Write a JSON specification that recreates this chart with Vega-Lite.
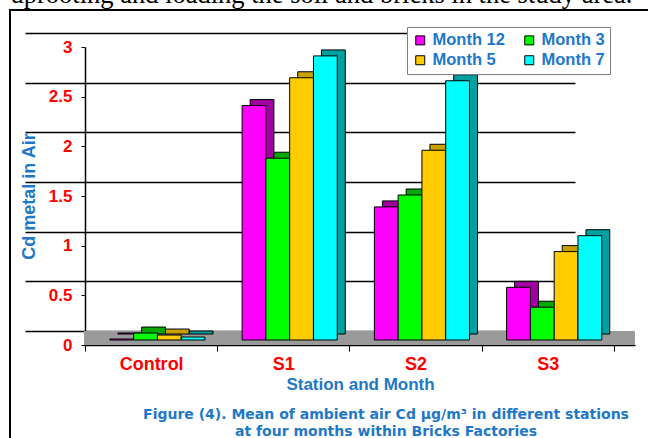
{
  "$schema": "https://vega.github.io/schema/vega-lite/v6.json",
  "width": 640,
  "height": 430,
  "autosize": {"type": "none"},
  "padding": {"left": 10, "top": 10, "right": 0, "bottom": 0},
  "background": "white",
  "config": {"view": {"stroke": "#000000", "strokeWidth": 2}, "font": "Liberation Sans"},
  "data": {
    "values": [
      {"station": "Control", "month": "Month 12", "value": 0.01},
      {"station": "Control", "month": "Month 3", "value": 0.07},
      {"station": "Control", "month": "Month 5", "value": 0.05},
      {"station": "Control", "month": "Month 7", "value": 0.03},
      {"station": "S1", "month": "Month 12", "value": 2.36},
      {"station": "S1", "month": "Month 3", "value": 1.83},
      {"station": "S1", "month": "Month 5", "value": 2.64},
      {"station": "S1", "month": "Month 7", "value": 2.86},
      {"station": "S2", "month": "Month 12", "value": 1.34},
      {"station": "S2", "month": "Month 3", "value": 1.46},
      {"station": "S2", "month": "Month 5", "value": 1.91},
      {"station": "S2", "month": "Month 7", "value": 2.61},
      {"station": "S3", "month": "Month 12", "value": 0.53},
      {"station": "S3", "month": "Month 3", "value": 0.33},
      {"station": "S3", "month": "Month 5", "value": 0.89},
      {"station": "S3", "month": "Month 7", "value": 1.05}
    ]
  },
  "title": {
    "text": ["Figure (4). Mean of ambient air Cd µg/m³ in different stations", "at four months within Bricks Factories"],
    "orient": "bottom",
    "anchor": "middle",
    "frame": "group",
    "offset": 0,
    "dx": 56,
    "dy": -32,
    "baseline": "top",
    "font": "DejaVu Sans",
    "fontSize": 14,
    "fontWeight": "bold",
    "color": "#1E78C8",
    "lineHeight": 17
  },
  "layer": [
    {
      "mark": {"type": "bar", "color": "#9A9A9A", "xOffset": 10, "width": {"band": 1.16}},
      "encoding": {
        "x": {
          "field": "station",
          "type": "nominal",
          "scale": {"range": [75, 625], "paddingInner": 0, "paddingOuter": 0.0794, "align": 0},
          "axis": {
            "orient": "top",
            "labels": false,
            "ticks": false,
            "domain": false,
            "grid": false,
            "title": "uprooting and loading the soil and bricks in the study area.",
            "titleX": 0,
            "titleY": -8,
            "titleAlign": "left",
            "titleBaseline": "alphabetic",
            "titleFont": "Liberation Serif",
            "titleFontSize": 26.5,
            "titleFontWeight": "normal",
            "titleColor": "#000000",
            "titleLimit": 2000
          }
        },
        "y": {
          "datum": 0,
          "type": "quantitative",
          "scale": {"domain": [0, 3], "range": [321, 23], "nice": false, "zero": false},
          "axis": {
            "orient": "right",
            "labels": false,
            "ticks": false,
            "domain": false,
            "title": null,
            "grid": true,
            "gridColor": "#000000",
            "gridWidth": 1.5,
            "values": [0, 0.5, 1, 1.5, 2, 2.5, 3]
          }
        },
        "y2": {"datum": -0.141}
      }
    },
    {
      "encoding": {
        "x": {
          "field": "station",
          "type": "nominal",
          "scale": {"range": [75, 625], "paddingInner": 0, "paddingOuter": 0.0794, "align": 0},
          "axis": {
            "orient": "bottom",
            "offset": -95,
            "grid": false,
            "domainColor": "#000000",
            "domainWidth": 1.5,
            "tickColor": "#000000",
            "tickSize": 6,
            "tickBand": "extent",
            "labelAngle": 0,
            "labelFont": "Liberation Sans",
            "labelFontSize": 18,
            "labelFontWeight": "bold",
            "labelColor": "#FF0000",
            "labelPadding": 4,
            "title": "Station and Month",
            "titleFont": "Liberation Sans",
            "titleFontSize": 17,
            "titleFontWeight": "bold",
            "titleColor": "#1E78C8",
            "titlePadding": 3
          }
        },
        "y": {
          "field": "value",
          "type": "quantitative",
          "scale": {"domain": [0, 3], "range": [335, 37], "nice": false, "zero": false},
          "axis": {
            "orient": "left",
            "offset": -75,
            "values": [0, 0.5, 1, 1.5, 2, 2.5, 3],
            "format": "~g",
            "grid": false,
            "domainColor": "#000000",
            "domainWidth": 1.5,
            "tickColor": "#000000",
            "tickSize": 4,
            "labelFont": "Liberation Sans",
            "labelFontSize": 17,
            "labelFontWeight": "bold",
            "labelColor": "#FF0000",
            "labelPadding": 9,
            "title": "Cd  metal in Air",
            "titleFont": "Liberation Sans",
            "titleFontSize": 18,
            "titleFontWeight": "bold",
            "titleColor": "#1E78C8",
            "titleX": -56,
            "titleBaseline": "middle"
          }
        }
      },
      "layer": [
        {
          "mark": {"type": "bar", "yOffset": -11, "y2Offset": -11, "stroke": "#000000", "strokeWidth": 1},
          "encoding": {
            "xOffset": {
              "field": "month",
              "type": "nominal",
              "sort": ["Month 12", "Month 3", "Month 5", "Month 7"],
              "scale": {"paddingInner": 0, "paddingOuter": 0.78, "align": 0.886}
            },
            "color": {
              "field": "month",
              "type": "nominal",
              "scale": {"domain": ["Month 12", "Month 3", "Month 5", "Month 7"], "range": ["#A000A0", "#00A800", "#C8A000", "#00A0A0"]},
              "legend": null
            }
          }
        },
        {
          "mark": {"type": "bar", "yOffset": -5, "y2Offset": -5, "stroke": "#000000", "strokeWidth": 1},
          "encoding": {
            "xOffset": {
              "field": "month",
              "type": "nominal",
              "sort": ["Month 12", "Month 3", "Month 5", "Month 7"],
              "scale": {"paddingInner": 0, "paddingOuter": 0.78, "align": 0.67}
            },
            "color": {
              "field": "month",
              "type": "nominal",
              "scale": {"domain": ["Month 12", "Month 3", "Month 5", "Month 7"], "range": ["#FF00FF", "#00FF00", "#FFCC00", "#00FFFF"]},
              "legend": {
                "title": null,
                "orient": "none",
                "direction": "horizontal",
                "legendX": 397,
                "legendY": 17,
                "columns": 2,
                "symbolType": "square",
                "symbolSize": 81,
                "symbolStrokeColor": "#000000",
                "symbolStrokeWidth": 1,
                "symbolOpacity": 1,
                "labelFont": "Liberation Sans",
                "labelFontSize": 16.5,
                "labelFontWeight": "bold",
                "labelColor": "#1E78C8",
                "labelOffset": 4,
                "fillColor": "#FFFFFF",
                "strokeColor": "#808080",
                "padding": 5,
                "columnPadding": 16,
                "rowPadding": 3
              }
            }
          }
        }
      ],
      "resolve": {"scale": {"color": "independent", "xOffset": "independent"}}
    }
  ],
  "resolve": {"scale": {"y": "independent"}, "axis": {"x": "independent", "y": "independent"}}
}
